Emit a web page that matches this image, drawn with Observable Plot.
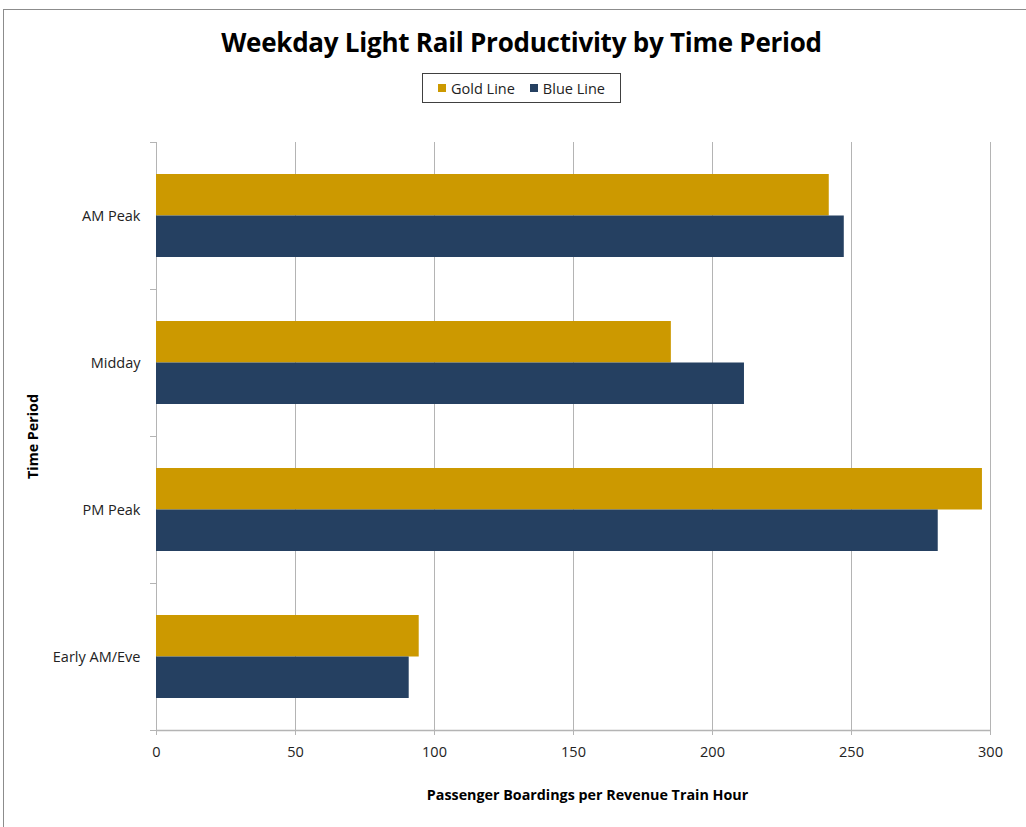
<!DOCTYPE html>
<html>
<head>
<meta charset="utf-8">
<script src="https://cdn.jsdelivr.net/npm/d3@7"></script>
<script src="https://cdn.jsdelivr.net/npm/@observablehq/plot@0.6"></script>
<style>
  html, body { margin: 0; padding: 0; background: #fff; width: 1026px; height: 827px; overflow: hidden; }
  #frame { position: absolute; left: 3px; top: 9px; width: 1040px; height: 840px; border: 1px solid #8c8c8c; box-sizing: border-box; background: #fff; }
  #title { position: absolute; left: 3px; top: 24px; width: 1037px; text-align: center; font-family: "Open Sans", sans-serif; font-weight: bold; font-size: 26px; letter-spacing: -0.25px; color: #000; line-height: 36px; }
  #legend { position: absolute; left: 422px; top: 73px; width: 199px; height: 30px; border: 1px solid #404040; box-sizing: border-box; display: flex; align-items: center; justify-content: center; gap: 15px; font-family: "Open Sans", sans-serif; font-size: 14.5px; color: #222; }
  #legend .item { display: flex; align-items: center; gap: 5px; }
  #legend .sw { width: 8px; height: 8px; display: inline-block; }
  #chart { position: absolute; left: 0; top: 117px; line-height: 0; }
</style>
</head>
<body>
<div id="frame"></div>
<div id="title"></div>
<div id="legend"></div>
<div id="chart"></div>
<script>
const chartTitle = "Weekday Light Rail Productivity by Time Period";
const periods = ["AM Peak", "Midday", "PM Peak", "Early AM/Eve"];
const seriesNames = ["Gold Line", "Blue Line"];
const seriesColors = ["#CC9900", "#254061"];
const goldValues = [242, 185.2, 297.1, 94.5];
const blueValues = [247.4, 211.5, 281.2, 90.9];
const xTicks = [0, 50, 100, 150, 200, 250, 300];
const xTitle = "Passenger Boardings per Revenue Train Hour";
const yTitle = "Time Period";

document.getElementById("title").textContent = chartTitle;
const legend = document.getElementById("legend");
seriesNames.forEach((name, i) => {
  const item = document.createElement("div");
  item.className = "item";
  const sw = document.createElement("span");
  sw.className = "sw";
  sw.style.background = seriesColors[i];
  const t = document.createElement("span");
  t.textContent = name;
  item.appendChild(sw); item.appendChild(t);
  legend.appendChild(item);
});

const goldData = periods.map((p, i) => ({period: p, series: seriesNames[0], value: goldValues[i]}));
const blueData = periods.map((p, i) => ({period: p, series: seriesNames[1], value: blueValues[i]}));

const W = 1026, H = 710;
const mT = 25, mB = 97, mL = 156, mR = 36;
const band = (H - mT - mB) / periods.length;
const barH = 41.5;
const gap = (band - 2 * barH) / 2;

const gridColor = "#b4b4b4";
const font = "'Open Sans', sans-serif";

const plot = Plot.plot({
  width: W, height: H,
  marginTop: mT, marginBottom: mB, marginLeft: mL, marginRight: mR,
  style: {fontFamily: font, fontSize: "14.5px", color: "#222", background: "transparent"},
  x: {domain: [0, 300], ticks: xTicks},
  y: {domain: periods, padding: 0},
  color: {domain: seriesNames, range: seriesColors},
  marks: [
    Plot.gridX(xTicks, {stroke: gridColor, strokeOpacity: 1, strokeWidth: 1}),
    Plot.ruleY([periods[periods.length - 1]], {x1: 0, x2: 300, dy: band / 2, stroke: gridColor, strokeWidth: 1.3}),
    Plot.axisX({ticks: xTicks, tickSize: 5, tickPadding: 11, stroke: gridColor, fill: "#222", fontSize: 14.5, label: null}),
    Plot.axisY({tickSize: 0, tickPadding: 16, fill: "#222", fontSize: 14.5, label: null}),
    Plot.axisY({tickSize: 6, text: null, dy: -band / 2, stroke: gridColor, label: null}),
    Plot.axisY({ticks: [periods[periods.length - 1]], tickSize: 6, text: null, dy: band / 2, stroke: gridColor, label: null}),
    Plot.barX(goldData, {y: "period", x: "value", fill: "series", insetTop: gap, insetBottom: band - gap - barH}),
    Plot.barX(blueData, {y: "period", x: "value", fill: "series", insetTop: gap + barH, insetBottom: gap}),
    Plot.text([xTitle], {frameAnchor: "bottom", dx: 14, dy: 69, fontWeight: "bold", fontSize: 14.3, fill: "#000"}),
    Plot.text([yTitle], {frameAnchor: "left", dx: -123, rotate: -90, textAnchor: "middle", fontWeight: "bold", fontSize: 14.3, fill: "#000"})
  ]
});
document.getElementById("chart").appendChild(plot);
</script>
</body>
</html>
